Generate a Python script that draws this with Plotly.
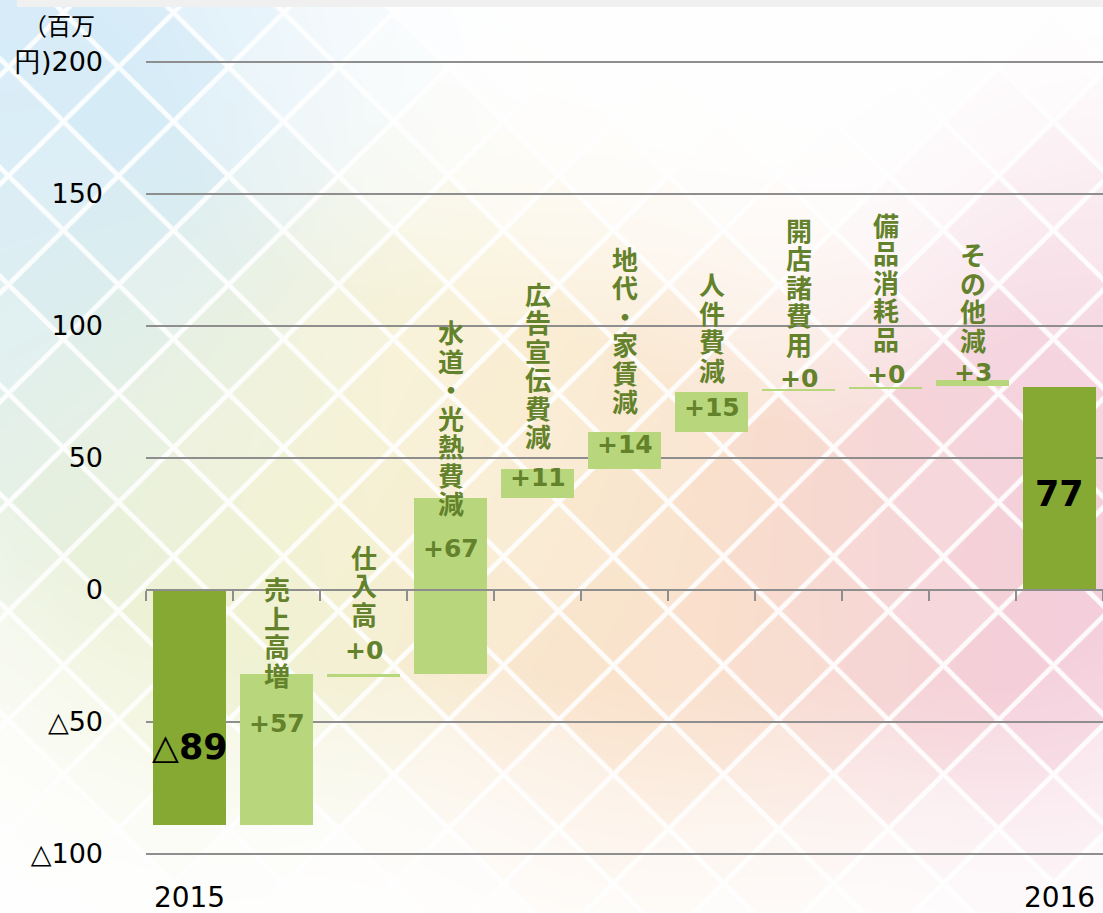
import base64
import struct
import zlib

import numpy as np
import plotly.graph_objects as go

# ---------------- data ----------------
categories = ["2015", "売上高増", "仕入高", "水道・光熱費減", "広告宣伝費減",
              "地代・家賃減", "人件費減", "開店諸費用", "備品消耗品", "その他減", "2016"]
bar_low = [-89, -89, -32.8, -32, 35, 46, 60, 75.3, 76.0, 77.3, 0]
bar_high = [0, -32, -32.0, 35, 46, 60, 75, 76.1, 76.8, 79.5, 77]
value_labels = ["△<b>89</b>", "+57", "+0", "+67", "+11", "+14", "+15", "+0", "+0", "+3", "<b>77</b>"]
y_tick_vals = [-100, -50, 0, 50, 100, 150, 200]
y_tick_text = ["△100", "△50", "0", "50", "100", "150", "円)200"]
x_tick_text = ["2015", "2016"]

# ---------------- styles ----------------
DARK = "#85A932"
LIGHT = "#B8D67B"
OLIVE = "#63822B"
GRID = "#8E8E8E"
bar_colors = [DARK] + [LIGHT] * 9 + [DARK]
# label placement (pixels, + = up) relative to bar top (or bar middle for totals)
value_offset_px = [-40, -49, 24, -51, -9, -13, -15, 11, 13, 8, -6]
name_gap_px = [0, 49, 37, 46, 42, 44, 38, 35, 36, 33]
CHAR_PITCH = 28.5
NAME_FONT = 26

W, H = 1103, 913
ML, MR, MT, MB = 146, 0, 59, 56
PW, PH = W - ML - MR, H - MT - MB
PX_PER_UNIT = 792 / 300.0
Y_EXT = ((PH - 792) / 2.0) / PX_PER_UNIT
Y_RANGE = [-100 - Y_EXT, 200 + Y_EXT]


# ---------------- decorative background ----------------
def make_background():
    yy, xx = np.mgrid[0:H, 0:W].astype(np.float64)
    p0x, p0y = 63.0, 121.0
    ax, ay = 55.0, 54.4
    det = 2 * ax * ay
    dx, dy = xx - p0x, yy - p0y
    s = (ay * dx + ax * dy) / det
    t = (-ay * dx + ax * dy) / det
    fs, ft = np.floor(s), np.floor(t)
    cx = p0x + (fs + 0.5) * ax - (ft + 0.5) * ax
    cy = p0y + (fs + 0.5) * ay + (ft + 0.5) * ay
    ex = 0.5 * cx + 0.5 * xx
    ey = 0.5 * cy + 0.5 * yy
    blobs = [
        (10, 110, 210, (212, 235, 248), 1.0),
        (40, 390, 150, (226, 240, 234), 0.7),
        (210, 560, 160, (238, 242, 210), 0.85),
        (410, 430, 165, (250, 245, 216), 0.9),
        (660, 560, 185, (250, 225, 202), 1.0),
        (1030, 560, 175, (244, 205, 219), 1.0),
        (1110, 300, 130, (247, 222, 231), 0.6),
    ]
    wsum = np.zeros_like(xx)
    csum = np.zeros((H, W, 3))
    for bx, by, sg, col, k in blobs:
        d2 = ((ex - bx) ** 2 + (ey - by) ** 2) / (2 * sg * sg)
        w = k * np.exp(-d2 ** 1.3)
        wsum += w
        csum += w[..., None] * np.array(col, dtype=float)
    col = csum / np.maximum(wsum, 1e-9)[..., None]
    h = np.sin(fs * 12.9898 + ft * 78.233) * 43758.5453
    h = h - np.floor(h)
    alpha = np.clip(wsum, 0, 1) * (0.85 + 0.25 * h)
    alpha = np.clip(alpha, 0, 1)[..., None]
    img = 255 * (1 - alpha) + alpha * col
    spacing = det / np.hypot(ax, ay)
    ds = np.abs(s - np.round(s)) * spacing
    dt = np.abs(t - np.round(t)) * spacing
    d = np.minimum(ds, dt)
    la = (np.clip((3.2 - d) / 1.6, 0, 1) * 0.9)[..., None]
    img = img * (1 - la) + 255 * la
    img[0:7, 17:, :] = 240
    return np.clip(img, 0, 255).astype(np.uint8)


def png_bytes(img):
    h, w, _ = img.shape
    a = img.astype(np.int16)
    sub = np.empty_like(a)
    sub[:, 0] = a[:, 0]
    sub[:, 1:] = a[:, 1:] - a[:, :-1]
    sub = (sub % 256).astype(np.uint8)
    raw = np.concatenate([np.ones((h, 1), np.uint8), sub.reshape(h, -1)], axis=1).tobytes()

    def chunk(tag, data):
        return (struct.pack(">I", len(data)) + tag + data
                + struct.pack(">I", zlib.crc32(tag + data) & 0xffffffff))

    return (b"\x89PNG\r\n\x1a\n"
            + chunk(b"IHDR", struct.pack(">IIBBBBB", w, h, 8, 2, 0, 0, 0))
            + chunk(b"IDAT", zlib.compress(raw, 9))
            + chunk(b"IEND", b""))


bg_uri = "data:image/png;base64," + base64.b64encode(png_bytes(make_background())).decode()

# ---------------- figure ----------------
xs = list(range(len(categories)))
heights = [hi - lo for lo, hi in zip(bar_low, bar_high)]

fig = go.Figure()
fig.add_trace(go.Bar(
    x=xs, y=heights, base=bar_low, width=0.83,
    marker=dict(color=bar_colors, line=dict(width=0)),
    hoverinfo="skip", showlegend=False,
))
# invisible trace for the zero-line axis
fig.add_trace(go.Scatter(x=[-0.5], y=[0], xaxis="x2", mode="markers",
                         marker=dict(opacity=0), hoverinfo="skip", showlegend=False))

annotations = []
for i, cat in enumerate(categories):
    total = i in (0, len(categories) - 1)
    if total:
        yv = (bar_low[i] + bar_high[i]) / 2
        annotations.append(dict(
            x=i, y=yv, yshift=value_offset_px[i], text=value_labels[i], showarrow=False,
            font=dict(family="DejaVu Sans", size=35, color="#000000")))
        continue
    annotations.append(dict(
        x=i, y=bar_high[i], yshift=value_offset_px[i], text="<b>%s</b>" % value_labels[i],
        showarrow=False, borderpad=0,
        font=dict(family="DejaVu Sans", size=25, color=OLIVE)))
    chars = list(cat)
    n = len(chars)
    for k, ch in enumerate(chars):
        annotations.append(dict(
            x=i, y=bar_high[i],
            yshift=value_offset_px[i] + name_gap_px[i] + (n - 1 - k) * CHAR_PITCH,
            text="<b>%s</b>" % ch, showarrow=False, borderpad=0,
            font=dict(family="Noto Sans CJK JP", size=NAME_FONT, color=OLIVE)))

annotations.append(dict(
    xref="paper", yref="paper", x=(97 - ML) / PW, y=1 + (MT - 24) / PH,
    xanchor="right", yanchor="middle", text="（百万", showarrow=False,
    font=dict(family="Noto Sans CJK JP", size=24, color="#000000")))

fig.update_layout(
    width=W, height=H,
    margin=dict(l=ML, r=MR, t=MT, b=MB, pad=0, autoexpand=False),
    paper_bgcolor="white", plot_bgcolor="rgba(0,0,0,0)",
    bargap=0,
    annotations=annotations,
    images=[dict(source=bg_uri, xref="paper", yref="paper",
                 x=-ML / PW, y=1 + MT / PH, sizex=W / PW, sizey=H / PH,
                 xanchor="left", yanchor="top", sizing="stretch", layer="below")],
    xaxis=dict(range=[-0.5, 10.5], tickvals=[0, 10], ticktext=x_tick_text,
               showgrid=False, zeroline=False, showline=False, ticks="",
               ticklabelstandoff=21, automargin=False,
               tickfont=dict(family="DejaVu Sans", size=28, color="#000000")),
    xaxis2=dict(range=[-0.5, 10.5], overlaying="x", anchor="free", position=1 / 3,
                side="bottom", tickvals=[k - 0.5 for k in range(12)],
                showticklabels=False, ticks="outside", ticklen=10, tickwidth=2,
                tickcolor=GRID, showline=True, linecolor=GRID, linewidth=2,
                showgrid=False, zeroline=False, automargin=False),
    yaxis=dict(range=Y_RANGE, tickvals=y_tick_vals, ticktext=y_tick_text,
               showgrid=True, gridcolor=GRID, gridwidth=2, zeroline=False,
               showline=False, ticks="", ticklabelstandoff=42, automargin=False,
               tickfont=dict(family="DejaVu Sans", size=27, color="#000000")),
)
fig.update_layout(xaxis2_position=(0 - Y_RANGE[0]) / (Y_RANGE[1] - Y_RANGE[0]))

fig.write_html("out.html", config={"displayModeBar": False},
               post_script="document.body.style.margin='0';document.body.style.overflow='hidden';")
